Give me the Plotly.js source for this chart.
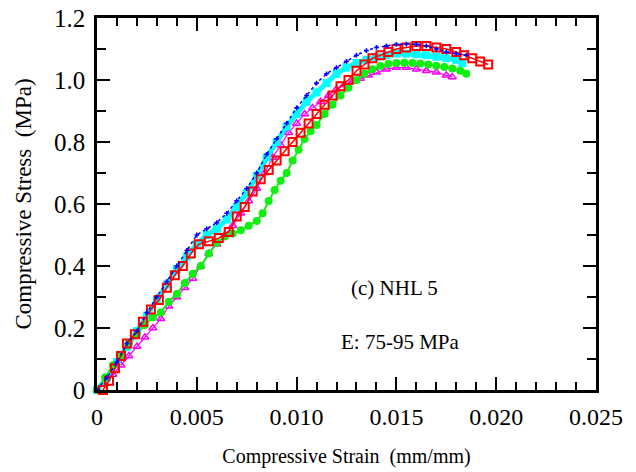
<!DOCTYPE html>
<html>
<head>
<meta charset="utf-8">
<script src="https://cdn.plot.ly/plotly-3.0.1.min.js"></script>
<style>html,body{margin:0;padding:0;background:#fff;}#chart{width:636px;height:472px;}</style>
</head>
<body>
<div id="chart"></div>
<script>
// Series data (strain mm/mm, stress MPa)
const magentaX = [0,0.0004,0.0008,0.0012,0.0016,0.002,0.0024,0.0028,0.0032,0.0036,0.004,0.0044,0.0048,0.0052,0.0056,0.006,0.0064,0.0068,0.0072,0.0076,0.008,0.0084,0.0088,0.0092,0.0096,0.010,0.0104,0.0108,0.0112,0.0116,0.012,0.0124,0.0128,0.0132,0.0136,0.014,0.0145,0.015,0.0155,0.016,0.0165,0.017,0.0175,0.0178];
const magentaY = [0,0.02,0.05,0.08,0.11,0.14,0.17,0.20,0.23,0.27,0.30,0.33,0.36,0.40,0.44,0.47,0.50,0.53,0.57,0.61,0.65,0.70,0.75,0.79,0.83,0.86,0.89,0.91,0.93,0.95,0.97,0.985,0.995,1.005,1.015,1.025,1.035,1.04,1.04,1.035,1.03,1.025,1.015,1.01];

const cyanX = [0,0.0005,0.001,0.0015,0.002,0.0025,0.003,0.0035,0.004,0.0045,0.005,0.0055,0.006,0.0065,0.007,0.0075,0.008,0.0085,0.009,0.0095,0.010,0.0105,0.011,0.0115,0.012,0.0125,0.013,0.0135,0.014,0.0145,0.015,0.0155,0.016,0.0165,0.017,0.0175,0.018,0.0183];
const cyanY = [0,0.04,0.09,0.14,0.19,0.24,0.29,0.34,0.39,0.43,0.47,0.50,0.52,0.55,0.59,0.635,0.69,0.75,0.80,0.85,0.89,0.93,0.96,0.99,1.02,1.04,1.055,1.065,1.075,1.08,1.085,1.085,1.083,1.08,1.075,1.07,1.065,1.055];

const greenX = [0,0.0004,0.0008,0.0012,0.0016,0.002,0.0024,0.0028,0.0032,0.0036,0.004,0.0044,0.0048,0.0052,0.0056,0.006,0.0064,0.0068,0.0072,0.0076,0.008,0.0083,0.0086,0.0089,0.0092,0.0095,0.0098,0.0101,0.0104,0.0107,0.011,0.0114,0.0118,0.0122,0.0126,0.013,0.0134,0.0138,0.0142,0.0146,0.015,0.0154,0.0158,0.0162,0.0166,0.017,0.0174,0.0178,0.0182,0.0185];
const greenY = [0,0.04,0.08,0.11,0.15,0.18,0.21,0.235,0.25,0.285,0.31,0.345,0.375,0.40,0.44,0.475,0.495,0.505,0.515,0.53,0.545,0.57,0.61,0.645,0.675,0.70,0.74,0.775,0.81,0.835,0.855,0.89,0.92,0.95,0.975,1.0,1.02,1.035,1.045,1.052,1.055,1.056,1.055,1.053,1.05,1.046,1.042,1.037,1.03,1.02];

const redX = [0.0003,0.0006,0.0009,0.0012,0.0015,0.0019,0.0023,0.0027,0.0031,0.0035,0.0039,0.0043,0.0047,0.0051,0.0056,0.0061,0.0066,0.0070,0.0074,0.0078,0.0082,0.0086,0.0090,0.0094,0.0098,0.0102,0.0106,0.0110,0.0114,0.0118,0.0122,0.0126,0.0130,0.0134,0.0138,0.0142,0.0146,0.0150,0.0155,0.0160,0.0165,0.0170,0.0175,0.0180,0.0184,0.0188,0.0192,0.0196];
const redY = [0,0.03,0.07,0.11,0.15,0.18,0.22,0.26,0.29,0.33,0.37,0.40,0.44,0.47,0.48,0.49,0.51,0.56,0.59,0.64,0.68,0.71,0.74,0.77,0.80,0.83,0.86,0.89,0.92,0.95,0.98,1.00,1.03,1.05,1.07,1.08,1.09,1.10,1.105,1.11,1.11,1.105,1.10,1.09,1.08,1.07,1.06,1.05];

const blueX = [0,0.0005,0.001,0.0015,0.002,0.0025,0.003,0.0035,0.004,0.0045,0.005,0.0055,0.006,0.0065,0.007,0.0075,0.008,0.0085,0.009,0.0095,0.010,0.0105,0.011,0.0115,0.012,0.0125,0.013,0.0135,0.014,0.0145,0.015,0.0155,0.016,0.0165,0.017,0.0175,0.018,0.0185];
const blueY = [0,0.04,0.09,0.15,0.19,0.25,0.30,0.35,0.40,0.45,0.50,0.52,0.54,0.57,0.61,0.65,0.70,0.76,0.81,0.86,0.91,0.95,0.99,1.02,1.04,1.06,1.08,1.095,1.105,1.11,1.115,1.116,1.115,1.11,1.10,1.09,1.085,1.08];

const xTickVals = [0,0.005,0.010,0.015,0.020,0.025];
const xTickText = ["0","0.005","0.010","0.015","0.020","0.025"];
const yTickVals = [0,0.2,0.4,0.6,0.8,1.0,1.2];
const yTickText = ["0","0.2","0.4","0.6","0.8","1.0","1.2"];

const SERIF = 'Liberation Serif';

const traces = [
  {x: magentaX, y: magentaY, mode: 'lines+markers', cliponaxis: false,
   line: {color: '#ff00ff', width: 1.2},
   marker: {symbol: 'triangle-up-open', size: 7, color: '#ff00ff', line: {width: 1.5, color: '#ff00ff'}}},
  {x: cyanX, y: cyanY, mode: 'lines+markers', cliponaxis: false,
   line: {color: '#00ffff', width: 5},
   marker: {symbol: 'square', size: 8, color: '#00ffff'}},
  {x: greenX, y: greenY, mode: 'lines+markers', cliponaxis: false,
   line: {color: '#11ee11', width: 2},
   marker: {symbol: 'circle', size: 8, color: '#11ee11'}},
  {x: redX, y: redY, mode: 'lines+markers', cliponaxis: false,
   line: {color: '#ff0000', width: 1.5},
   marker: {symbol: 'square-open', size: 8, color: '#ff0000', line: {width: 2, color: '#ff0000'}}},
  {x: blueX, y: blueY, mode: 'lines+markers', cliponaxis: false,
   line: {color: '#0000ff', width: 1.5, dash: 'dot'},
   marker: {symbol: 'cross', size: 4, color: '#0000ff'}}
];

const axisCommon = {
  showgrid: false, zeroline: false, showline: true, mirror: 'ticks',
  linecolor: '#000', linewidth: 2.5, ticks: 'inside', tickcolor: '#000',
  tickwidth: 1.5, ticklen: 13
};

const layout = {
  width: 636, height: 472,
  margin: {l: 97, r: 40, t: 18, b: 82},
  paper_bgcolor: '#fff', plot_bgcolor: '#fff',
  showlegend: false,
  font: {family: SERIF, color: '#000'},
  xaxis: Object.assign({}, axisCommon, {
    range: [0, 0.025], tickmode: 'array', tickvals: xTickVals, ticktext: xTickText,
    tickfont: {family: SERIF, size: 24, color: '#000'},
    ticklabelstandoff: 3,
    minor: {dtick: 0.001, ticks: 'inside', ticklen: 8, tickwidth: 1.5, tickcolor: '#000'},
    title: {text: 'Compressive Strain  (mm/mm)', font: {family: SERIF, size: 20, color: '#000'}, standoff: 21}
  }),
  yaxis: Object.assign({}, axisCommon, {
    range: [0, 1.2], tickmode: 'array', tickvals: yTickVals, ticktext: yTickText,
    tickfont: {family: SERIF, size: 25, color: '#000'},
    ticklabelstandoff: 4,
    minor: {dtick: 0.1, ticks: 'inside', ticklen: 9, tickwidth: 1.5, tickcolor: '#000'},
    title: {text: 'Compressive Stress  (MPa)', font: {family: SERIF, size: 23, color: '#000'}, standoff: 16}
  }),
  annotations: [
    {x: 0.01488, y: 0.329, xref: 'x', yref: 'y', text: '(c) NHL 5', showarrow: false,
     font: {family: SERIF, size: 21, color: '#000'}},
    {x: 0.01523, y: 0.155, xref: 'x', yref: 'y', text: 'E: 75-95 MPa', showarrow: false,
     font: {family: SERIF, size: 21, color: '#000'}}
  ]
};

Plotly.newPlot('chart', traces, layout, {displayModeBar: false});
</script>
</body>
</html>
